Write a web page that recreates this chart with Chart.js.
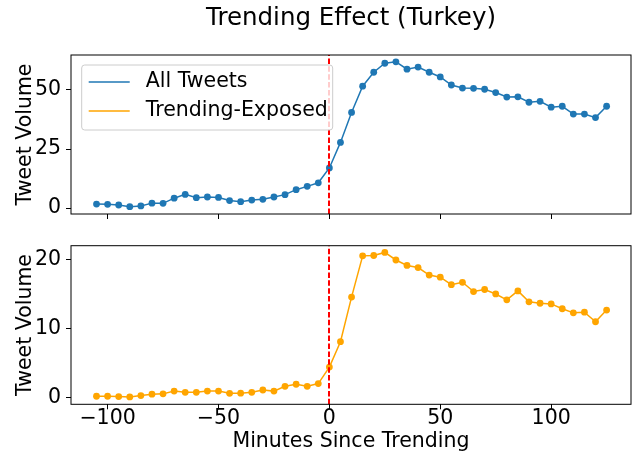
<!DOCTYPE html>
<html lang="en">
<head>
    <meta charset="UTF-8">
    <title>Trending Effect (Turkey)</title>
    <script src="https://cdn.jsdelivr.net/npm/chart.js"></script>
    <style>
        body { margin: 0; background: #fff; }
        #wrap { position: relative; width: 635px; height: 452px; }
        #topCanvas { position: absolute; left: 0; top: 0; }
        #bottomCanvas { position: absolute; left: 0; top: 230px; }
    </style>
</head>
<body>
    <div id="wrap">
        <canvas id="topCanvas" width="635" height="230"></canvas>
        <canvas id="bottomCanvas" width="635" height="222"></canvas>
    </div>

    <script>
        // minutes relative to the trending moment
        const minutes = [-105, -100, -95, -90, -85, -80, -75, -70, -65, -60, -55, -50, -45, -40, -35, -30,
            -25, -20, -15, -10, -5, 0, 5, 10, 15, 20, 25, 30, 35, 40, 45, 50, 55, 60, 65, 70, 75, 80,
            85, 90, 95, 100, 105, 110, 115, 120, 125];

        const allTweets = [1.7, 1.6, 1.3, 0.6, 0.9, 2.1, 2.0, 4.2, 5.8, 4.4, 4.7, 4.5, 3.2, 2.7, 3.4, 3.7,
            4.7, 5.7, 7.8, 9.2, 10.7, 17.0, 27.8, 40.5, 51.6, 57.5, 61.3, 61.9, 58.8, 59.7, 57.5, 55.5,
            52.1, 50.8, 50.7, 50.3, 48.9, 47.0, 47.1, 44.8, 45.2, 42.7, 43.1, 39.8, 39.8, 38.3, 43.1];

        const trendingExposed = [0.15, 0.15, 0.1, 0.05, 0.25, 0.45, 0.5, 0.9, 0.73, 0.73, 0.9, 0.9, 0.58, 0.6,
            0.73, 1.06, 0.9, 1.6, 1.9, 1.6, 2.0, 4.4, 8.1, 14.6, 20.6, 20.65, 21.1, 20.0, 19.2, 18.9, 17.8,
            17.5, 16.4, 16.75, 15.4, 15.7, 15.05, 14.2, 15.5, 13.9, 13.7, 13.6, 12.9, 12.3, 12.4, 11.0, 12.7];

        const xTicks = [-100, -50, 0, 50, 100];
        const topYTicks = [0, 25, 50];
        const bottomYTicks = [0, 10, 20];
        const seriesNames = ['All Tweets', 'Trending-Exposed'];
        const trendMinute = 0;

        const BLUE = '#1f77b4';
        const ORANGE = '#ffa500';
        const FONT = 'DejaVu Sans';
        const FS = 20.5;
        const tickFont = { family: FONT, size: FS, lineHeight: 1 };

        Chart.defaults.devicePixelRatio = 1;
        Chart.defaults.color = '#000';

        function toPoints(values) {
            return minutes.map((m, i) => ({ x: m, y: values[i] }));
        }

        function fixedTicks(list) {
            return function(scale) { scale.ticks = list.map(v => ({ value: v })); };
        }

        // matplotlib writes negatives with a real minus sign
        function minusLabel(value) {
            return String(value).replace('-', '\u2212');
        }

        // red dashed line at the trending moment + black frame round the axes
        const framePlugin = {
            id: 'frame',
            afterDatasetsDraw(chart) {
                const { ctx, chartArea: a, scales } = chart;
                const x = Math.round(scales.x.getPixelForValue(trendMinute));
                ctx.save();
                ctx.strokeStyle = '#ff0000';
                ctx.lineWidth = 2;
                ctx.setLineDash([5.5, 2.4]);
                ctx.beginPath();
                ctx.moveTo(x, a.bottom);
                ctx.lineTo(x, a.top);
                ctx.stroke();
                ctx.setLineDash([]);
                ctx.strokeStyle = '#000';
                ctx.lineWidth = 1;
                ctx.strokeRect(a.left, a.top, a.right - a.left, a.bottom - a.top);
                ctx.restore();
            }
        };

        // matplotlib style legend in the upper left of the top axes
        const legendPlugin = {
            id: 'boxLegend',
            afterDraw(chart) {
                const { ctx, chartArea: a } = chart;
                const left = a.left + 10.7, top = a.top + 10, w = 251, h = 65;
                ctx.save();
                ctx.beginPath();
                ctx.roundRect(left, top, w, h, 3);
                ctx.fillStyle = 'rgba(255,255,255,0.8)';
                ctx.fill();
                ctx.strokeStyle = '#cccccc';
                ctx.lineWidth = 1;
                ctx.stroke();
                const colors = [BLUE, ORANGE];
                ctx.font = FS + 'px "' + FONT + '"';
                ctx.textBaseline = 'middle';
                ctx.fillStyle = '#000';
                seriesNames.forEach((name, i) => {
                    const y = top + 17 + i * 29;
                    ctx.strokeStyle = colors[i];
                    ctx.lineWidth = 1.5;
                    ctx.beginPath();
                    ctx.moveTo(left + 7, y);
                    ctx.lineTo(left + 48, y);
                    ctx.stroke();
                    ctx.fillText(name, left + 64, y);
                });
                ctx.restore();
            }
        };

        function makeChart(canvasId, values, color, yMin, yMax, yTicks, isTop) {
            const xAxis = {
                type: 'linear',
                min: -116.5,
                max: 136,
                afterBuildTicks: fixedTicks(xTicks),
                afterFit(scale) { scale.height = isTop ? 16 : 47.7; },
                grid: { drawOnChartArea: false, tickLength: 5, color: '#000' },
                border: { display: false },
                ticks: { display: !isTop, font: tickFont, padding: -0.5, maxRotation: 0, callback: minusLabel },
                title: {
                    display: !isTop,
                    text: 'Minutes Since Trending',
                    font: { family: FONT, size: FS, lineHeight: 1 },
                    padding: { top: 0, bottom: 0 }
                }
            };
            const yAxis = {
                min: yMin,
                max: yMax,
                afterBuildTicks: fixedTicks(yTicks),
                afterFit(scale) { scale.width = 71; },
                grid: { drawOnChartArea: false, tickLength: 5, color: '#000' },
                border: { display: false },
                ticks: { font: tickFont, padding: 5, callback: minusLabel },
                title: {
                    display: true,
                    text: 'Tweet Volume',
                    font: { family: FONT, size: FS, lineHeight: 1.2 },
                    padding: { top: 13.6, bottom: 0 }
                }
            };
            return new Chart(document.getElementById(canvasId), {
                type: 'line',
                data: {
                    datasets: [{
                        label: isTop ? seriesNames[0] : seriesNames[1],
                        data: toPoints(values),
                        borderColor: color,
                        backgroundColor: color,
                        borderWidth: 1.5,
                        pointRadius: 3.4,
                        pointBorderWidth: 0,
                        tension: 0
                    }]
                },
                options: {
                    responsive: false,
                    animation: false,
                    layout: { padding: { left: 0, right: 1.7, top: isTop ? 0 : 15.7, bottom: 0 } },
                    scales: { x: xAxis, y: yAxis },
                    plugins: {
                        legend: { display: false },
                        tooltip: { enabled: false },
                        title: {
                            display: isTop,
                            text: 'Trending Effect (Turkey)',
                            fullSize: false,
                            font: { family: FONT, size: 24.5, weight: 'normal', lineHeight: 1.2 },
                            padding: { top: 4.1, bottom: 21.5 }
                        }
                    }
                },
                plugins: isTop ? [framePlugin, legendPlugin] : [framePlugin]
            });
        }

        makeChart('topCanvas', allTweets, BLUE, -2.5, 64.8, topYTicks, true);
        makeChart('bottomCanvas', trendingExposed, ORANGE, -1.02, 22.08, bottomYTicks, false);
    </script>
</body>
</html>
